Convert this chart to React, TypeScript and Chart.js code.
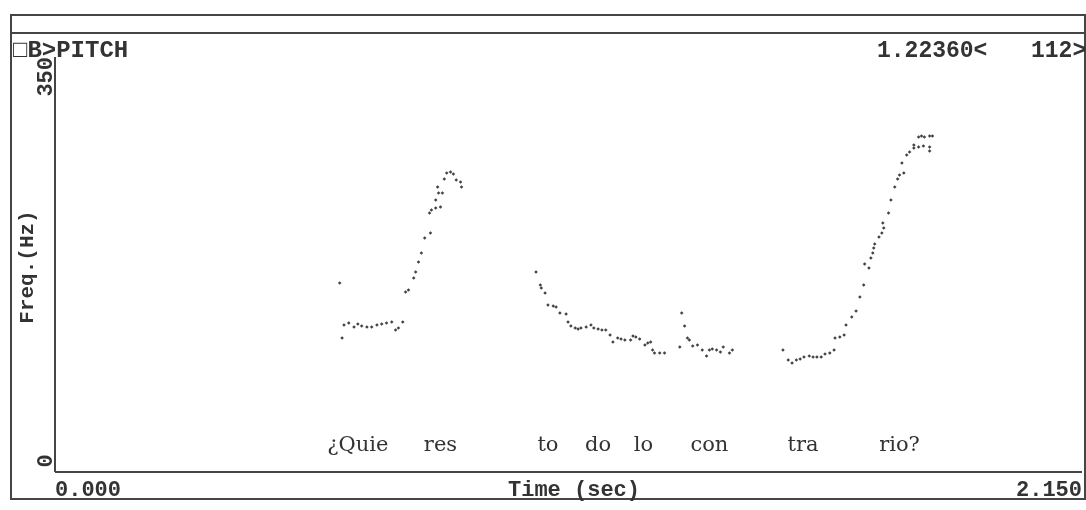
import React, { useEffect, useRef } from "react";
import { Chart, registerables } from "chart.js";

Chart.register(...registerables);

// ---- Data (time in seconds, F0 in Hz) ----
const seg1Time = [0.596, 0.601, 0.605, 0.615, 0.626, 0.634, 0.642, 0.653, 0.663, 0.674, 0.684, 0.694, 0.705, 0.713, 0.719, 0.728, 0.734, 0.740, 0.751, 0.755, 0.761, 0.767, 0.774, 0.786, 0.784, 0.788, 0.797, 0.807, 0.797, 0.803, 0.811, 0.801, 0.815, 0.820, 0.828, 0.834, 0.840, 0.849, 0.851];
const seg1Hz = [159.4, 113.0, 124.0, 125.7, 122.3, 124.8, 123.1, 122.3, 122.3, 124.0, 124.8, 125.7, 126.5, 119.8, 121.4, 126.5, 151.8, 153.5, 163.6, 168.7, 177.1, 184.7, 197.3, 201.6, 218.4, 221.0, 222.6, 223.5, 229.4, 235.3, 235.3, 240.4, 247.1, 252.2, 253.0, 251.3, 246.3, 244.6, 240.4];

const seg2Time = [1.007, 1.016, 1.018, 1.026, 1.032, 1.043, 1.049, 1.057, 1.070, 1.074, 1.080, 1.089, 1.095, 1.101, 1.112, 1.122, 1.128, 1.137, 1.145, 1.153, 1.162, 1.168, 1.178, 1.185, 1.193, 1.205, 1.210, 1.216, 1.224, 1.235, 1.241, 1.247, 1.251, 1.255, 1.266, 1.276, 1.308, 1.312, 1.318, 1.324, 1.328, 1.335, 1.345, 1.355, 1.364, 1.370, 1.376, 1.385, 1.393, 1.399, 1.412, 1.418];
const seg2Hz = [168.7, 157.7, 155.2, 151.0, 140.8, 140.0, 139.2, 134.1, 133.3, 126.5, 123.1, 121.4, 120.6, 121.4, 122.3, 124.0, 121.4, 120.6, 119.8, 119.8, 115.5, 109.6, 113.0, 112.2, 111.3, 111.3, 114.7, 113.9, 112.2, 107.1, 108.8, 109.6, 102.9, 100.4, 100.4, 100.4, 105.4, 134.1, 123.1, 113.0, 111.3, 106.3, 107.1, 102.9, 97.8, 102.9, 103.7, 102.9, 101.2, 105.4, 100.4, 102.9];

const seg3Time = [1.524, 1.535, 1.543, 1.552, 1.560, 1.568, 1.579, 1.587, 1.595, 1.604, 1.612, 1.622, 1.631, 1.633, 1.643, 1.652, 1.656, 1.668, 1.677, 1.685, 1.693, 1.695, 1.704, 1.708, 1.712, 1.714, 1.716, 1.725, 1.731, 1.735, 1.733, 1.745, 1.750, 1.758, 1.764, 1.768, 1.777, 1.773, 1.783, 1.789, 1.798, 1.798, 1.808, 1.814, 1.820, 1.831, 1.837, 1.808, 1.818, 1.831, 1.831];
const seg3Hz = [102.9, 94.5, 91.9, 94.5, 95.3, 97.0, 97.8, 97.0, 97.0, 97.0, 99.5, 100.4, 102.9, 113.0, 113.9, 115.5, 124.0, 130.7, 135.8, 147.6, 157.7, 175.4, 172.0, 180.5, 184.7, 188.9, 192.3, 198.2, 201.6, 205.8, 210.0, 218.4, 229.4, 240.4, 247.1, 250.5, 252.2, 260.6, 267.3, 269.9, 273.3, 275.8, 282.5, 283.4, 282.5, 283.4, 283.4, 274.1, 274.9, 274.1, 270.7];

// Syllable annotations
const syllables = ["¿Quie", "res", "to", "do", "lo", "con", "tra", "rio?"];
const syllableTimes = [0.634, 0.807, 1.032, 1.137, 1.232, 1.370, 1.566, 1.768];
const syllableHz = 18;

// Axis / header texts
const yTickValues = [0, 350];
const yTickLabels = ["0", "350"];
const xTickValues = [0, 2.15];
const xTickLabels = ["0.000", "2.150"];
const yAxisTitle = "Freq.(Hz)";
const xAxisTitle = "Time (sec)";
const headerLeft = "□B>PITCH";
const headerCursor = "1.22360<";
const headerRight = "112>";

const INK = "#333333";
const LINE = "#454545";
const DOT = "#444444";

function toPoints(t: number[], f: number[]) {
  return t.map((x, i) => ({ x, y: f[i] }));
}

const framePlugin = {
  id: "pitchFrame",
  afterDraw(chart: any) {
    const ctx: CanvasRenderingContext2D = chart.ctx;
    const { left, right, top, bottom } = chart.chartArea;
    const xs = chart.scales.x;
    const ys = chart.scales.y;
    ctx.save();
    // frame lines
    ctx.strokeStyle = LINE;
    ctx.lineWidth = 2;
    ctx.beginPath();
    ctx.moveTo(10, 15); ctx.lineTo(1086, 15);
    ctx.moveTo(10, 33); ctx.lineTo(1086, 33);
    ctx.moveTo(11, 15); ctx.lineTo(11, 500);
    ctx.moveTo(1085, 15); ctx.lineTo(1085, 500);
    ctx.moveTo(11, 499); ctx.lineTo(1086, 499);
    ctx.stroke();
    // axes
    ctx.beginPath();
    ctx.moveTo(left, top); ctx.lineTo(left, bottom);
    ctx.moveTo(left, bottom); ctx.lineTo(right, bottom);
    ctx.stroke();

    ctx.fillStyle = INK;
    // header
    ctx.font = 'bold 24px "Liberation Mono"';
    ctx.textBaseline = "alphabetic";
    ctx.textAlign = "left";
    ctx.fillText(headerLeft, 13, 57);
    ctx.font = 'bold 23px "Liberation Mono"';
    ctx.fillText(headerCursor, 877, 57);
    ctx.fillText(headerRight, 1031, 57);

    // y tick labels (rotated)
    ctx.font = 'bold 22px "Liberation Mono"';
    yTickValues.forEach((v, i) => {
      const py = ys.getPixelForValue(v);
      ctx.save();
      ctx.translate(46, i === 0 ? py - 11 : py);
      ctx.rotate(-Math.PI / 2);
      ctx.textBaseline = "middle";
      ctx.textAlign = i === 0 ? "center" : "right";
      ctx.fillText(yTickLabels[i], 0, 0);
      ctx.restore();
    });
    // y axis title
    ctx.save();
    ctx.translate(28, 267);
    ctx.rotate(-Math.PI / 2);
    ctx.textBaseline = "middle";
    ctx.textAlign = "center";
    ctx.font = 'bold 21px "Liberation Mono"';
    ctx.fillText(yAxisTitle, 0, 0);
    ctx.restore();

    // x tick labels
    ctx.font = 'bold 22px "Liberation Mono"';
    ctx.textBaseline = "alphabetic";
    xTickValues.forEach((v, i) => {
      const px = xs.getPixelForValue(v);
      ctx.textAlign = i === 0 ? "left" : "right";
      ctx.fillText(xTickLabels[i], px, 496);
    });
    ctx.textAlign = "left";
    ctx.fillText(xAxisTitle, 508, 496);

    // syllables
    ctx.font = '21px "DejaVu Serif"';
    ctx.textAlign = "center";
    ctx.textBaseline = "alphabetic";
    syllables.forEach((s, i) => {
      ctx.fillText(s, xs.getPixelForValue(syllableTimes[i]), ys.getPixelForValue(syllableHz));
    });
    ctx.restore();
  },
};

export default function App() {
  const ref = useRef<HTMLCanvasElement | null>(null);
  useEffect(() => {
    if (!ref.current) return;
    const ds = (t: number[], f: number[]) => ({
      data: toPoints(t, f),
      showLine: false,
      pointStyle: "rectRot" as const,
      pointRadius: 1.8,
      pointBackgroundColor: DOT,
      pointBorderWidth: 0,
    });
    const chart = new Chart(ref.current, {
      type: "scatter",
      data: { datasets: [ds(seg1Time, seg1Hz), ds(seg2Time, seg2Hz), ds(seg3Time, seg3Hz)] },
      options: {
        animation: false,
        responsive: false,
        devicePixelRatio: 1,
        layout: { padding: { left: 55, top: 57, right: 0, bottom: 38 } },
        plugins: { legend: { display: false }, tooltip: { enabled: false } },
        scales: {
          x: { type: "linear", min: 0, max: 2.15, display: false },
          y: { type: "linear", min: 0, max: 350, display: false },
        },
      },
      plugins: [framePlugin],
    });
    return () => chart.destroy();
  }, []);
  return (
    <div style={{ position: "fixed", left: 0, top: 0, width: 1086, height: 510, background: "#fff" }}>
      <canvas ref={ref} width={1086} height={510} style={{ width: 1086, height: 510, display: "block" }} />
    </div>
  );
}
